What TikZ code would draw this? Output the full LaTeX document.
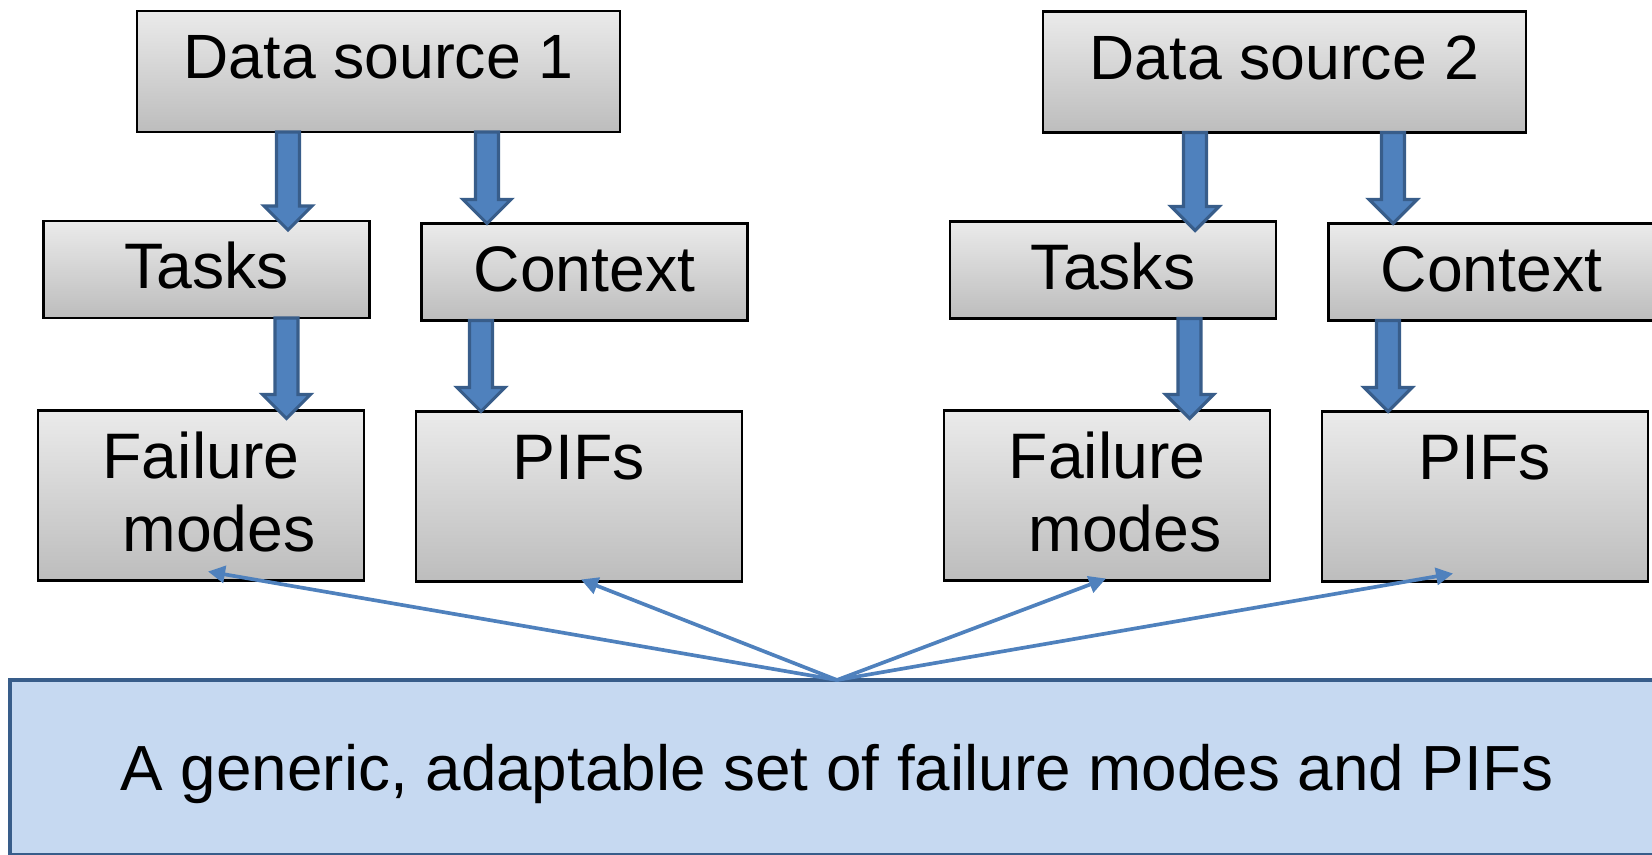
\documentclass[tikz,border=0pt]{standalone}
\usepackage{fontspec}
\setmainfont{Liberation Sans}
\usepackage{xcolor}
\usepackage{tikz}
\usetikzlibrary{arrows.meta,calc}

\definecolor{arrblue}{HTML}{4F81BD}
\definecolor{arrdark}{HTML}{385D8A}
\definecolor{genfill}{HTML}{C6D9F1}

% fat block arrow: x taken from #1, tip at the y of #2
\newcommand{\blockarrow}[2]{%
  \draw[blk] let \p1=(#1), \p2=(#2) in
    (\x1-1.15mm,\y1) -- (\x1+1.15mm,\y1) -- (\x1+1.15mm,\y2+2.4mm)
    -- (\x1+2.4mm,\y2+2.4mm) -- (\x1,\y2) -- (\x1-2.4mm,\y2+2.4mm)
    -- (\x1-1.15mm,\y2+2.4mm) -- cycle;}

\begin{document}
\begin{tikzpicture}[
    font=\fontsize{18.3}{20.7}\selectfont,
    every node/.style={align=center, inner sep=0pt, outer sep=0pt},
    grey/.style={draw=black, line width=0.6pt, top color=black!8, bottom color=black!26},
    srcbox/.style={grey, font=\fontsize{17.8}{20.7}\selectfont,
      minimum width=4.83cm, minimum height=1.21cm,
      text height=0.68cm, text depth=0.53cm},
    midbox/.style={grey, minimum width=3.26cm, minimum height=0.97cm,
      text height=0.68cm, text depth=0.29cm},
    outbox/.style={grey, minimum width=3.26cm, minimum height=1.70cm,
      text height=0.68cm, text depth=1.02cm},
    twoline/.style={text height=1.41cm, text depth=0.29cm},
    genbox/.style={draw=arrdark, line width=1.4pt, fill=genfill,
      font=\fontsize{18.15}{20.7}\selectfont,
      minimum width=16.54cm, minimum height=1.755cm, text height=0.45cm, text depth=0pt},
    blk/.style={draw=arrdark, line width=0.9pt, fill=arrblue},
    fan/.style={draw=arrblue, line width=1.05pt, -{Triangle[length=0.17cm, width=0.17cm]}},
  ]
    \path[use as bounding box] (0,0) rectangle (16.52,8.54);

    % --- sources ---
    \node[srcbox] (ds1) at (3.785,7.825) {Data source 1};
    \node[srcbox] (ds2) at (12.845,7.82) {Data source 2};

    % --- tasks / context ---
    \node[midbox] (tk1) at (2.065,5.845) {Tasks};
    \node[midbox] (cx1) at (5.845,5.82) {Context};
    \node[midbox] (tk2) at (11.13,5.84) {Tasks};
    \node[midbox] (cx2) at (14.915,5.82) {Context};

    % --- failure modes / PIFs ---
    \node[outbox, twoline] (fm1) at (2.01,3.585) {Failure\\\hspace*{0.36cm}modes};
    \node[outbox] (pf1) at (5.79,3.575) {PIFs};
    \node[outbox, twoline] (fm2) at (11.07,3.585) {Failure\\\hspace*{0.36cm}modes};
    \node[outbox] (pf2) at (14.85,3.575) {PIFs};

    % --- generic set ---
    \node[genbox] (gen) at (8.37,0.8625) {A generic, adaptable set of failure modes and PIFs};

    % --- block arrows ---
    \blockarrow{[xshift=-0.905cm]ds1.south}{[yshift=-0.09cm]tk1.north}
    \blockarrow{[xshift=1.085cm]ds1.south}{cx1.north}
    \blockarrow{[xshift=0.80cm]tk1.south}{[yshift=-0.08cm]fm1.north}
    \blockarrow{[xshift=-1.035cm]cx1.south}{pf1.north}
    \blockarrow{[xshift=-0.895cm]ds2.south}{[yshift=-0.09cm]tk2.north}
    \blockarrow{[xshift=1.085cm]ds2.south}{cx2.north}
    \blockarrow{[xshift=0.765cm]tk2.south}{[yshift=-0.08cm]fm2.north}
    \blockarrow{[xshift=-1.035cm]cx2.south}{pf2.north}

    % --- fan from the generic set ---
    \draw[fan] (gen.north) -- ([shift={(0.07,0.09)}]fm1.south);
    \draw[fan] (gen.north) -- ([shift={(0.02,0.02)}]pf1.south);
    \draw[fan] (gen.north) -- ([shift={(-0.01,0.02)}]fm2.south);
    \draw[fan] (gen.north) -- ([shift={(-0.32,0.08)}]pf2.south);
\end{tikzpicture}
\end{document}
